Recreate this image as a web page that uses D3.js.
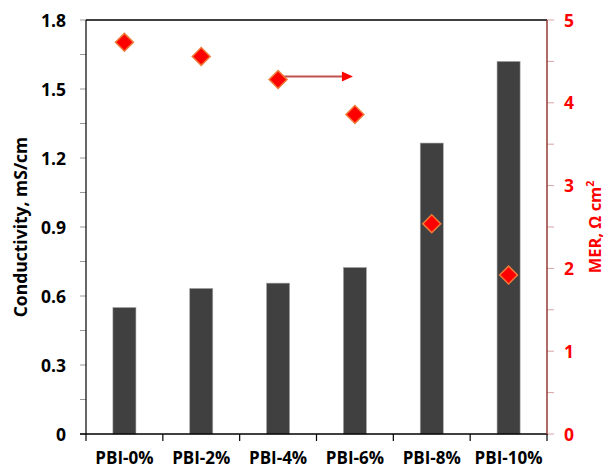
<!DOCTYPE html>
<html>
<head>
<meta charset="utf-8">
<script src="https://cdn.jsdelivr.net/npm/d3@7"></script>
<style>
  html, body { margin: 0; padding: 0; background: #fff; }
  svg { display: block; font-family: "Open Sans", "DejaVu Sans", sans-serif; }
</style>
</head>
<body>
<svg id="chart" width="607" height="469"></svg>
<script>
// Membrane samples and their measured properties
const categories = ["PBI-0%", "PBI-2%", "PBI-4%", "PBI-6%", "PBI-8%", "PBI-10%"];
const conductivity = [0.55, 0.633, 0.656, 0.724, 1.265, 1.62];   // mS/cm (bars, left axis)
const mer = [4.73, 4.56, 4.28, 3.86, 2.54, 1.92];                 // Ω cm² (diamonds, right axis)
const leftTicks = [0, 0.3, 0.6, 0.9, 1.2, 1.5, 1.8];
const rightTicks = [0, 1, 2, 3, 4, 5];

const svg = d3.select("#chart");
const plot = { left: 86, right: 547, top: 20, bottom: 434 };

const x = d3.scaleBand().domain(categories).range([plot.left, plot.right]).paddingInner(0).paddingOuter(0);
const yL = d3.scaleLinear().domain([0, 1.8]).range([plot.bottom, plot.top]);
const yR = d3.scaleLinear().domain([0, 5]).range([plot.bottom, plot.top]);

// Minor/major tick marks on the left axis (every 0.15)
const leftTickMarks = d3.range(0, 1.8001, 0.15);
svg.append("g").selectAll("line").data(leftTickMarks).join("line")
  .attr("x1", plot.left - 6).attr("x2", plot.left)
  .attr("y1", d => yL(d)).attr("y2", d => yL(d))
  .attr("stroke", "#9a9a9a").attr("stroke-width", 1);

// Right axis tick marks (every 0.5)
const rightTickMarks = d3.range(0, 5.001, 0.5);
svg.append("g").selectAll("line").data(rightTickMarks).join("line")
  .attr("x1", plot.right).attr("x2", plot.right + 7)
  .attr("y1", d => yR(d)).attr("y2", d => yR(d))
  .attr("stroke", "#dba3a3").attr("stroke-width", 1);

// Bars
const barW = x.bandwidth() * 0.3;
svg.append("g").selectAll("rect").data(categories).join("rect")
  .attr("x", d => x(d) + (x.bandwidth() - barW) / 2)
  .attr("width", barW)
  .attr("y", (d, i) => yL(conductivity[i]))
  .attr("height", (d, i) => yL(0) - yL(conductivity[i]))
  .attr("fill", "#404040")
  .attr("stroke", "#a6a6a6").attr("stroke-width", 0.6);

// Frame: left, top, bottom in black; right axis in dark red
svg.append("line").attr("x1", plot.left).attr("x2", plot.left).attr("y1", plot.top).attr("y2", plot.bottom)
  .attr("stroke", "#000").attr("stroke-width", 1.2);
svg.append("line").attr("x1", plot.left).attr("x2", plot.right).attr("y1", plot.top).attr("y2", plot.top)
  .attr("stroke", "#000").attr("stroke-width", 1.5);
svg.append("line").attr("x1", plot.left - 6).attr("x2", plot.right).attr("y1", plot.bottom).attr("y2", plot.bottom)
  .attr("stroke", "#000").attr("stroke-width", 1.5);
svg.append("line").attr("x1", plot.right).attr("x2", plot.right).attr("y1", plot.top).attr("y2", plot.bottom + 1)
  .attr("stroke", "#953735").attr("stroke-width", 1.5);

// Category boundary ticks below the x axis
const bounds = categories.map(d => x(d)).concat([x(categories[categories.length - 1]) + x.bandwidth()]);
svg.append("g").selectAll("line").data(bounds).join("line")
  .attr("x1", d => d).attr("x2", d => d)
  .attr("y1", plot.bottom).attr("y2", plot.bottom + 7)
  .attr("stroke", "#000").attr("stroke-width", 1.2);

// Category labels
svg.append("g").selectAll("text").data(categories).join("text")
  .attr("x", d => x(d) + x.bandwidth() / 2)
  .attr("y", 464)
  .attr("text-anchor", "middle")
  .attr("font-size", 17).attr("font-weight", 700).attr("fill", "#000")
  .text(d => d);

// Left tick labels
svg.append("g").selectAll("text").data(leftTicks).join("text")
  .attr("x", 66).attr("y", d => yL(d) + 6.5)
  .attr("text-anchor", "end")
  .attr("font-size", 17.5).attr("font-weight", 700).attr("fill", "#000")
  .text(d => d === 0 ? "0" : d.toFixed(1));

// Right tick labels
svg.append("g").selectAll("text").data(rightTicks).join("text")
  .attr("x", 564).attr("y", d => yR(d) + 6.5)
  .attr("text-anchor", "start")
  .attr("font-size", 17.5).attr("font-weight", 700).attr("fill", "#ff0000")
  .text(d => d);

// Axis titles
svg.append("text")
  .attr("transform", `translate(27, ${(plot.top + plot.bottom) / 2}) rotate(-90)`)
  .attr("text-anchor", "middle")
  .attr("font-size", 17.5).attr("font-weight", 700).attr("fill", "#000")
  .text("Conductivity, mS/cm");

const rTitle = svg.append("text")
  .attr("transform", `translate(601, ${(plot.top + plot.bottom) / 2}) rotate(-90)`)
  .attr("text-anchor", "middle")
  .attr("font-size", 16.5).attr("font-weight", 700).attr("fill", "#ff0000");
rTitle.append("tspan").text("MER, Ω cm");
rTitle.append("tspan").attr("font-size", 10.5).attr("dy", -7).text("2");

// Trend arrow from PBI-4% toward PBI-6%
const arrowY = yR(mer[2]) - 3;
const ax1 = x(categories[2]) + x.bandwidth() / 2 + 6;
const ax2 = x(categories[3]) + x.bandwidth() / 2 - 2;
svg.append("line")
  .attr("x1", ax1).attr("x2", ax2 - 9)
  .attr("y1", arrowY).attr("y2", arrowY)
  .attr("stroke", "#c0504d").attr("stroke-width", 2);
svg.append("path")
  .attr("d", `M${ax2},${arrowY} L${ax2 - 11},${arrowY - 5} L${ax2 - 11},${arrowY + 5} Z`)
  .attr("fill", "#ff0000");

// MER diamonds
const diamond = d3.symbol().type(d3.symbolSquare).size(160);
svg.append("g").selectAll("path").data(categories).join("path")
  .attr("d", diamond)
  .attr("transform", (d, i) => `translate(${x(d) + x.bandwidth() / 2}, ${yR(mer[i])}) rotate(45)`)
  .attr("fill", "#ff0000")
  .attr("stroke", "#f07a3a").attr("stroke-width", 1.5);
</script>
</body>
</html>
